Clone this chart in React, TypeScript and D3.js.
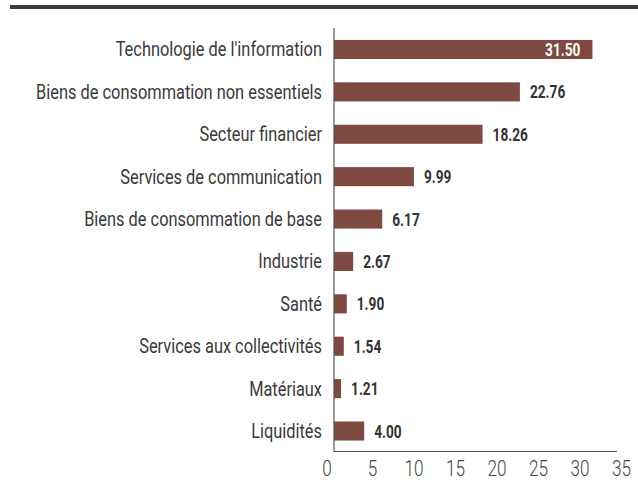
import React from "react";
import * as d3 from "d3";

const categories = [
  "Technologie de l'information",
  "Biens de consommation non essentiels",
  "Secteur financier",
  "Services de communication",
  "Biens de consommation de base",
  "Industrie",
  "Santé",
  "Services aux collectivités",
  "Matériaux",
  "Liquidités",
];
const values = [31.5, 22.76, 18.26, 9.99, 6.17, 2.67, 1.9, 1.54, 1.21, 4.0];
const ticks = [0, 5, 10, 15, 20, 25, 30, 35];

const W = 638;
const H = 488;
const FONT = "Roboto, 'DejaVu Sans', sans-serif";
const AXIS_X = 334;

function T({ x, y, sx, anchor, size, weight, fill, children }: any) {
  return (
    <g transform={`translate(${x},${y}) scale(${sx},1)`}>
      <text x={0} y={0} textAnchor={anchor} fontFamily={FONT} fontSize={size} fontWeight={weight} fill={fill}>
        {children}
      </text>
    </g>
  );
}

export default function App() {
  const x = d3.scaleLinear().domain([0, 35]).range([331, 621.5]);
  const y = d3.scaleBand().domain(categories).range([28.3, 452.2]).paddingInner(0.55).paddingOuter(0.275);
  return (
    <svg width={W} height={H} style={{ position: "absolute", left: 0, top: 0 }}>
      <rect x={10} y={5} width={628} height={4} fill="#3a3a3a" />
      {categories.map((c, i) => {
        const yc = (y(c) as number) + y.bandwidth() / 2;
        const inside = i === 0;
        return (
          <g key={c}>
            <T x={322} y={yc + 7} sx={0.82} anchor="end" size={20} weight={400} fill="#3a3a3a">
              {c}
            </T>
            <rect x={AXIS_X} y={y(c)} width={x(values[i]) - AXIS_X} height={y.bandwidth()} fill="#7d4940" />
            <T
              x={inside ? x(values[i]) - 12 : x(values[i]) + 10}
              y={yc + 6.5}
              sx={0.74}
              anchor={inside ? "end" : "start"}
              size={18.5}
              weight={700}
              fill={inside ? "#ffffff" : "#333333"}
            >
              {values[i].toFixed(2)}
            </T>
          </g>
        );
      })}
      <line x1={AXIS_X} x2={AXIS_X} y1={28} y2={452} stroke="#555" strokeWidth={1.2} />
      <line x1={AXIS_X} x2={617} y1={451.5} y2={451.5} stroke="#555" strokeWidth={1.2} />
      {ticks.map((t) => (
        <T key={t} x={t === 0 ? x(t) - 4 : x(t)} y={475.5} sx={0.78} anchor="middle" size={22} weight={300} fill="#444">
          {t}
        </T>
      ))}
    </svg>
  );
}
